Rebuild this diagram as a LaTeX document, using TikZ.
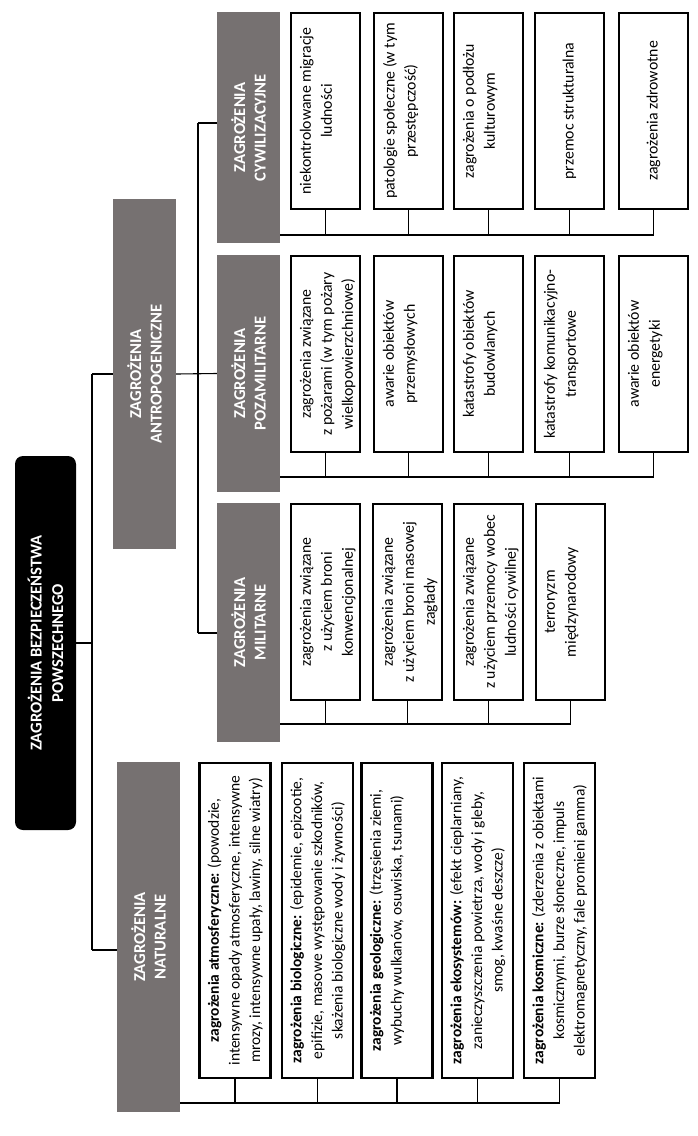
\documentclass[tikz,border=0pt]{standalone}
\usepackage{fontspec}
\setmainfont{Carlito}
\definecolor{catgray}{HTML}{767171}
\newcommand{\uptext}[1]{\parbox[c][51pt][t]{192pt}{\centering #1}}
\newcommand{\nattext}[1]{\parbox[c][55pt][t]{313pt}{\centering #1}}
\begin{document}
\begin{tikzpicture}[x=1pt,y=1pt]
\tikzset{
  rootbox/.style={rotate=90, fill=black, rounded corners=8pt, text=white, inner sep=0pt, align=center,
    font=\bfseries\fontsize{16.6}{21.5}\selectfont},
  catbox/.style={rotate=90, fill=catgray, text=white, inner sep=0pt, align=center,
    minimum height=63pt, font=\bfseries\fontsize{16.6}{20.5}\selectfont},
  leafbox/.style={rotate=90, draw=black, line width=2.2pt, fill=white, text=black, inner sep=0pt, align=center},
  upleaf/.style={leafbox, minimum width=196pt, minimum height=69pt, font=\fontsize{15.8}{21}\selectfont},
  natleaf/.style={leafbox, minimum width=315pt, minimum height=71pt, font=\fontsize{15.5}{20.7}\selectfont},
  conn/.style={line width=1.1pt, black},
}
\useasboundingbox (0,0) rectangle (698,-1136);
% root and categories
\node[rootbox, minimum width=374pt, minimum height=61pt] (root) at (45.5,-643) {ZAGROŻENIA BEZPIECZEŃSTWA\\POWSZECHNEGO};
\node[catbox, minimum width=350pt] (anth) at (144.5,-374) {ZAGROŻENIA\\ANTROPOGENICZNE};
\node[catbox, minimum width=350pt] (nat) at (148.5,-937) {ZAGROŻENIA\\NATURALNE};
\node[catbox, minimum width=231pt] (cyw) at (248.5,-127.5) {ZAGROŻENIA\\CYWILIZACYJNE};
\node[catbox, minimum width=237pt] (poz) at (248.5,-373.5) {ZAGROŻENIA\\POZAMILITARNE};
\node[catbox, minimum width=239pt] (mil) at (248.5,-622.5) {ZAGROŻENIA\\MILITARNE};
% cywilizacyjne leaves
\node[upleaf] (c1) at (325.5,-111) {\uptext{niekontrolowane migracje\\ludności}};
\node[upleaf] (c2) at (408.5,-111) {\uptext{patologie społeczne (w tym\\przestępczość)}};
\node[upleaf] (c3) at (488.5,-111) {\uptext{zagrożenia o podłożu\\kulturowym}};
\node[upleaf] (c4) at (569.5,-111) {przemoc strukturalna};
\node[upleaf] (c5) at (653.5,-111) {zagrożenia zdrowotne};
% pozamilitarne leaves
\node[upleaf] (p1) at (325.5,-354) {\uptext{zagrożenia związane\\z pożarami (w tym pożary\\wielkopowierzchniowe)}};
\node[upleaf] (p2) at (408.5,-354) {\uptext{awarie obiektów\\przemysłowych}};
\node[upleaf] (p3) at (488.5,-354) {\uptext{katastrofy obiektów\\budowlanych}};
\node[upleaf] (p4) at (569.5,-354) {\uptext{katastrofy komunikacyjno-\\transportowe}};
\node[upleaf] (p5) at (653.5,-354) {\uptext{awarie obiektów\\energetyki}};
% militarne leaves
\node[upleaf] (m1) at (325.5,-602) {\uptext{zagrożenia związane\\z użyciem broni\\konwencjonalnej}};
\node[upleaf] (m2) at (407.5,-602) {\uptext{zagrożenia związane\\z użyciem broni masowej\\zagłady}};
\node[upleaf] (m3) at (488.5,-602) {\uptext{zagrożenia związane\\z użyciem przemocy wobec\\ludności cywilnej}};
\node[upleaf] (m4) at (570.5,-602) {\uptext{terroryzm\\międzynarodowy}};
% naturalne leaves
\node[natleaf] (n1) at (235,-920.5) {\nattext{\textbf{zagrożenia atmosferyczne:} (powodzie,\\intensywne opady atmosferyczne, intensywne\\mrozy, intensywne upały, lawiny, silne wiatry)}};
\node[natleaf] (n2) at (317.5,-920.5) {\nattext{\textbf{zagrożenia biologiczne:} (epidemie, epizootie,\\epifizie, masowe występowanie szkodników,\\skażenia biologiczne wody i żywności)}};
\node[natleaf] (n3) at (397,-920.5) {\nattext{\textbf{zagrożenia geologiczne:} (trzęsienia ziemi,\\wybuchy wulkanów, osuwiska, tsunami)}};
\node[natleaf] (n4) at (477.5,-920.5) {\nattext{\textbf{zagrożenia ekosystemów:} (efekt cieplarniany,\\zanieczyszczenia powietrza, wody i gleby,\\smog, kwaśne deszcze)}};
\node[natleaf] (n5) at (559.5,-920.5) {\nattext{\textbf{zagrożenia kosmiczne:} (zderzenia z obiektami\\kosmicznymi, burze słoneczne, impuls\\elektromagnetyczny, fale promieni gamma)}};
% trunk coordinates
\coordinate (T1a) at (92,-374);
\coordinate (T1b) at (92,-950);
\coordinate (T2a) at (198,-123);
\coordinate (T2b) at (198,-633);
\coordinate (busC) at (0,-235);
\coordinate (busP) at (0,-477);
\coordinate (busM) at (0,-724);
\coordinate (busN) at (0,-1103);
% main connectors
\draw[conn] (T1a) -- (T1b);
\draw[conn] (root.south) -- (root.south -| T1a);
\draw[conn] (T1a) -- (anth.north);
\draw[conn] (T1b) -- (T1b -| nat.north);
\draw[conn] (T2a) -- (T2b);
\draw[conn] (anth.south) -- (poz.north);
\draw[conn] (T2a) -- (T2a -| cyw.north);
\draw[conn] (T2b) -- (T2b -| mil.north);
% buses
\draw[conn] (cyw.south |- busC) -- (c5.west |- busC);
\foreach \n in {c1,c2,c3,c4,c5} \draw[conn] (\n.west) -- (\n.west |- busC);
\draw[conn] (poz.south |- busP) -- (p5.west |- busP);
\foreach \n in {p1,p2,p3,p4,p5} \draw[conn] (\n.west) -- (\n.west |- busP);
\draw[conn] (mil.south |- busM) -- (m4.west |- busM);
\foreach \n in {m1,m2,m3,m4} \draw[conn] (\n.west) -- (\n.west |- busM);
\draw[conn] (nat.south |- busN) -- (n5.west |- busN);
\foreach \n in {n1,n2,n3,n4,n5} \draw[conn] (\n.west) -- (\n.west |- busN);
\end{tikzpicture}
\end{document}
